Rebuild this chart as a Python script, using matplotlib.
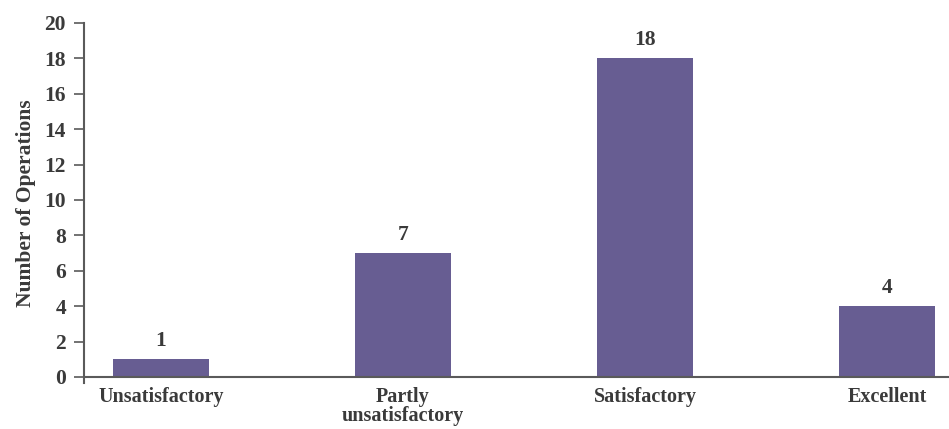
import matplotlib.pyplot as plt
import numpy as np

categories = ["Unsatisfactory", "Partly\nunsatisfactory", "Satisfactory", "Excellent"]
operations = [1, 7, 18, 4]
yticks = [0, 2, 4, 6, 8, 10, 12, 14, 16, 18, 20]

bar_color = "#675d92"
text_color = "#3a3a3a"
axis_color = "#5a5a5a"

plt.rcParams["font.family"] = ["Liberation Serif", "DejaVu Serif"]
plt.rcParams["font.weight"] = "bold"

fig = plt.figure(figsize=(9.49, 4.29), dpi=100)
ax = fig.add_axes([84 / 949, 1 - 383 / 429, 1 - 84 / 949, (383 - 23) / 429])

x = np.arange(len(categories))
bars = ax.bar(x, operations, width=0.4, color=bar_color, zorder=2)

for xi, v in zip(x, operations):
    ax.annotate(str(v), (xi, v), xytext=(0, 6), textcoords="offset points",
                ha="center", va="bottom", fontsize=15.5, fontweight="bold",
                color=text_color)

ax.set_xlim(-0.318, 3.256)
ax.set_ylim(-0.34, 20)
ax.set_yticks(yticks)
ax.set_yticklabels([str(t) for t in yticks], fontsize=15.5, fontweight="bold",
                   color=text_color)
ax.set_xticks(x)
ax.set_xticklabels(categories, fontsize=14.5, fontweight="bold",
                   color=text_color, linespacing=0.9)
ax.tick_params(axis="x", length=0, pad=3)
ax.tick_params(axis="y", length=7, width=1.2, color=axis_color, pad=6)

ax.axhline(0, color=axis_color, linewidth=1.5, zorder=3)
for side in ["top", "right", "bottom"]:
    ax.spines[side].set_visible(False)
ax.spines["left"].set_color(axis_color)
ax.spines["left"].set_linewidth(1.5)

ax.set_ylabel("Number of Operations", fontsize=15.5, fontweight="bold",
              color=text_color, labelpad=6)

fig.savefig("out.png", dpi=100)
